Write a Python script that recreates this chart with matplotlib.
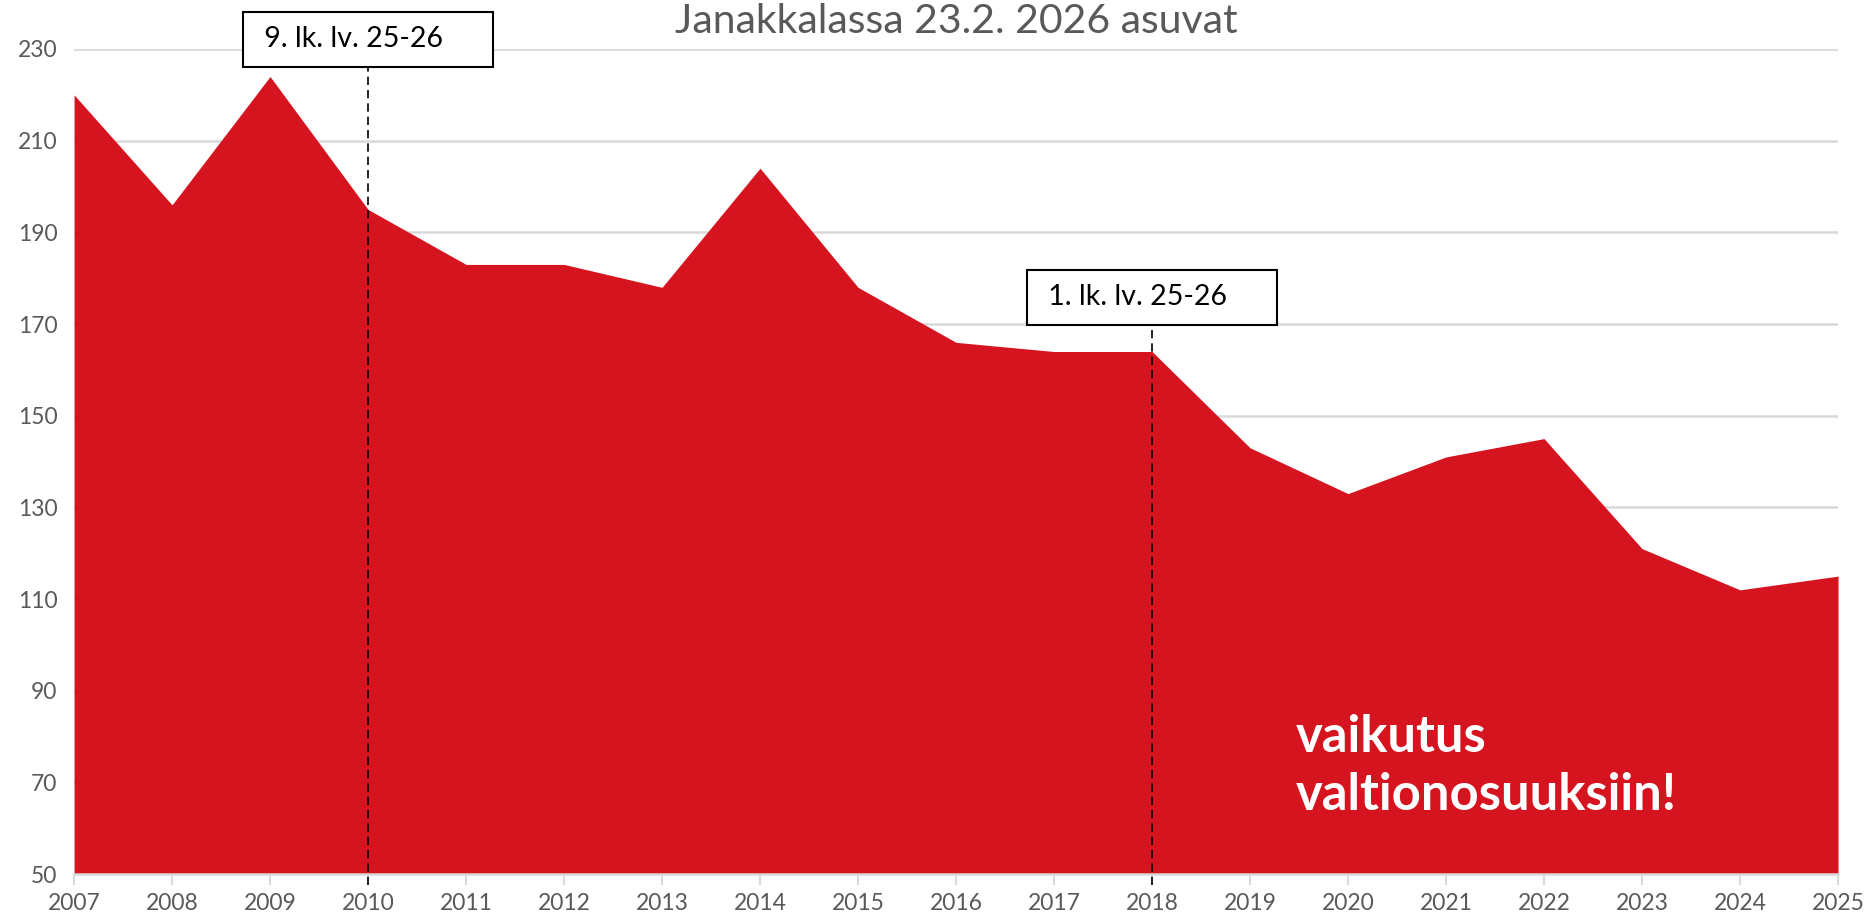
import matplotlib
matplotlib.use("Agg")
import matplotlib.pyplot as plt

# Data
years = list(range(2007, 2026))
asukkaat = [220, 196, 224, 195, 183, 183, 178, 204, 178, 166, 164, 164,
            143, 133, 141, 145, 121, 112, 115]
yticks = [50, 70, 90, 110, 130, 150, 170, 190, 210, 230]
title = "Janakkalassa 23.2. 2026 asuvat"
merkinnat = [(2010, "9. lk. lv. 25-26", 232.1), (2018, "1. lk. lv. 25-26", 175.8)]
viesti = "vaikutus\nvaltionosuuksiin!"

red = "#D6141F"
grey = "#595959"
grid = "#D9D9D9"

plt.rcParams["font.family"] = ["Lato", "DejaVu Sans"]

fig = plt.figure(figsize=(18.7, 9.21), dpi=100)
ax = fig.add_axes([0.0396, 0.051, 0.9433, 0.8958])

ax.fill_between(years, 50, asukkaat, color=red, lw=0, zorder=2)

ax.set_xlim(2007, 2025)
ax.set_ylim(50, 230)
ax.set_yticks(yticks)
ax.set_xticks(years)
ax.yaxis.grid(True, color=grid, lw=1.8, zorder=0)
ax.set_axisbelow(True)
for s in ["top", "right", "left"]:
    ax.spines[s].set_visible(False)
ax.spines["bottom"].set_color(grid)
ax.spines["bottom"].set_linewidth(1.8)
ax.tick_params(axis="y", length=0, labelsize=16.5, labelcolor=grey, pad=12)
ax.tick_params(axis="x", length=8, width=1.5, color=grid, labelsize=16.5,
               labelcolor=grey, pad=6)

ax.text(0.5, 1.033, title, transform=ax.transAxes, ha="center", va="center",
        fontsize=29.5, color=grey)

# Merkinnät katkoviivoineen
for x, txt, yc in merkinnat:
    ax.plot([x, x], [47.5, yc], ls=(0, (5, 3)), color="black", lw=1.2,
            zorder=3, clip_on=False)
    ax.text(x, yc, " " + txt + "     ", ha="center", va="center", fontsize=20.5,
            color="black", zorder=4, clip_on=False,
            bbox=dict(boxstyle="square,pad=0.5", fc="white", ec="black", lw=1.5))

ax.text(2019.47, 73.5, viesti, ha="left", va="center", fontsize=36.5,
        fontweight="bold", color="white", linespacing=1.3, zorder=5)

fig.savefig("out.png", dpi=100)
